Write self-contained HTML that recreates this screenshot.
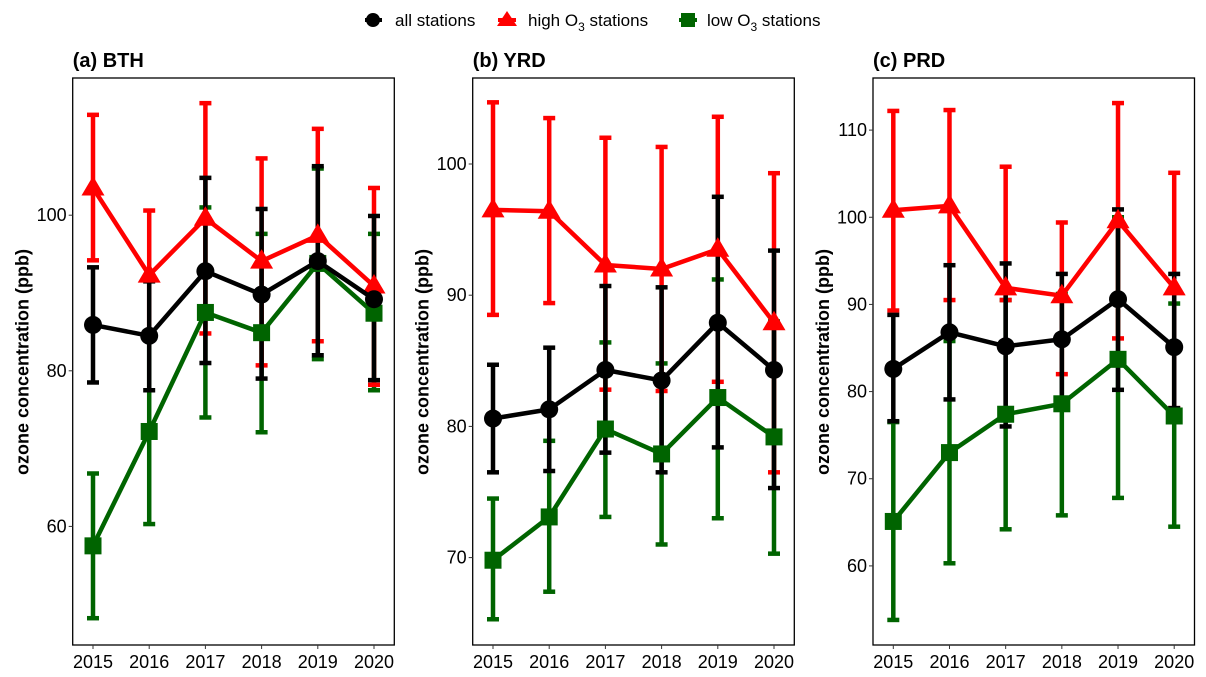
<!DOCTYPE html>
<html><head><meta charset="utf-8"><style>
body{margin:0;background:#fff;}
svg{display:block;font-family:"Liberation Sans",Arial,sans-serif;}
</style></head><body>
<svg id="chart" width="1206" height="677" viewBox="0 0 1206 677">
<g id="legend">
  <g>
    <line x1="365" y1="20" x2="382" y2="20" stroke="#000" stroke-width="4"/>
    <circle cx="373" cy="20" r="7" fill="#000"/>
    <text x="395" y="26" font-size="17">all stations</text>
  </g>
  <g>
    <line x1="498" y1="20" x2="516" y2="20" stroke="#f00" stroke-width="4"/>
    <polygon points="507,11 517,26 497,26" fill="#f00"/>
    <text x="528" y="26" font-size="17">high O<tspan font-size="12" dy="5">3</tspan><tspan dy="-5"> stations</tspan></text>
  </g>
  <g>
    <line x1="679" y1="20" x2="697" y2="20" stroke="#006400" stroke-width="4"/>
    <rect x="681" y="13" width="14" height="14" fill="#006400"/>
    <text x="707" y="26" font-size="17">low O<tspan font-size="12" dy="5">3</tspan><tspan dy="-5"> stations</tspan></text>
  </g>
</g>
</svg>
<script>
const years = [2015, 2016, 2017, 2018, 2019, 2020];
const bthAll = [85.9, 84.5, 92.8, 89.8, 94.1, 89.2];
const bthAllLo = [78.5, 77.5, 81.0, 79.0, 82.0, 78.8];
const bthAllHi = [93.3, 91.5, 104.8, 100.8, 106.3, 99.9];
const bthHigh = [103.5, 92.3, 99.6, 94.1, 97.4, 90.9];
const bthHighLo = [94.2, 84.0, 84.8, 80.7, 83.8, 78.2];
const bthHighHi = [112.9, 100.6, 114.4, 107.3, 111.1, 103.5];
const bthLow = [57.5, 72.2, 87.5, 84.9, 93.8, 87.4];
const bthLowLo = [48.2, 60.3, 74.0, 72.1, 81.5, 77.5];
const bthLowHi = [66.8, 84.0, 101.0, 97.6, 106.0, 97.6];
const yrdAll = [80.6, 81.3, 84.3, 83.5, 87.9, 84.3];
const yrdAllLo = [76.5, 76.6, 78.0, 76.5, 78.4, 75.3];
const yrdAllHi = [84.7, 86.0, 90.7, 90.6, 97.5, 93.4];
const yrdHigh = [96.5, 96.4, 92.3, 92.0, 93.5, 87.9];
const yrdHighLo = [88.5, 89.4, 82.8, 82.7, 83.4, 76.5];
const yrdHighHi = [104.7, 103.5, 102.0, 101.3, 103.6, 99.3];
const yrdLow = [69.8, 73.1, 79.8, 77.9, 82.2, 79.2];
const yrdLowLo = [65.3, 67.4, 73.1, 71.0, 73.0, 70.3];
const yrdLowHi = [74.5, 78.9, 86.4, 84.8, 91.2, 88.0];
const prdAll = [82.6, 86.8, 85.2, 86.0, 90.6, 85.1];
const prdAllLo = [76.6, 79.1, 76.0, 78.5, 80.2, 78.1];
const prdAllHi = [88.8, 94.5, 94.7, 93.5, 100.9, 93.5];
const prdHigh = [100.8, 101.3, 91.9, 91.0, 99.6, 91.9];
const prdHighLo = [89.3, 90.5, 90.5, 82.0, 86.1, 78.1];
const prdHighHi = [112.2, 112.3, 105.8, 99.4, 113.1, 105.1];
const prdLow = [65.1, 73.0, 77.4, 78.6, 83.7, 77.2];
const prdLowLo = [53.8, 60.3, 64.2, 65.8, 67.8, 64.5];
const prdLowHi = [76.5, 85.8, 90.5, 91.2, 100.0, 90.1];
const bthTicks = [60, 80, 100];
const yrdTicks = [70, 80, 90, 100];
const prdTicks = [60, 70, 80, 90, 100, 110];

const NS = "http://www.w3.org/2000/svg";
const svg = document.getElementById('chart');
function mk(tag, attrs, parent){const e=document.createElementNS(NS,tag);for(const k in attrs)e.setAttribute(k,attrs[k]);(parent||svg).appendChild(e);return e;}

const panels = [
 {id:'bth', title:'(a) BTH', left:72.7, right:394.3, refV:100, refY:215.2, ppv:7.78, ticks:bthTicks,
  series:[[bthLow,bthLowLo,bthLowHi],[bthHigh,bthHighLo,bthHighHi],[bthAll,bthAllLo,bthAllHi]]},
 {id:'yrd', title:'(b) YRD', left:472.7, right:794.3, refV:100, refY:164.0, ppv:13.12, ticks:yrdTicks,
  series:[[yrdLow,yrdLowLo,yrdLowHi],[yrdHigh,yrdHighLo,yrdHighHi],[yrdAll,yrdAllLo,yrdAllHi]]},
 {id:'prd', title:'(c) PRD', left:873, right:1194.5, refV:110, refY:130.1, ppv:8.716, ticks:prdTicks,
  series:[[prdLow,prdLowLo,prdLowHi],[prdHigh,prdHighLo,prdHighHi],[prdAll,prdAllLo,prdAllHi]]}
];
const colors = ['#006400','#f00','#000'];
const names = ['low-o3','high-o3','all-stations'];
const TOP=78, BOT=645;

panels.forEach(p=>{
  const g = mk('g',{});
  
  
  const y = v => p.refY - (v - p.refV)*p.ppv;
  const x0 = p.left + 20.3, dx = (p.right - p.left - 40.6)/5;
  const x = i => x0 + i*dx;
  const t = mk('text',{x:p.left, y:67, 'font-size':20, 'font-weight':'bold'}, g);
  t.textContent = p.title;
  
  
  const box = mk('rect',{x:p.left, y:TOP, width:p.right-p.left, height:BOT-TOP, fill:'none', stroke:'#000', 'stroke-width':1.3}, g);
  
  
  const yt = mk('text',{transform:`translate(${p.left-44},362) rotate(-90)`, 'text-anchor':'middle', 'font-size':18, 'font-weight':'bold'}, g);
  yt.textContent = 'ozone concentration (ppb)';
  
  
  p.ticks.forEach(v=>{
    mk('line',{x1:p.left-4, x2:p.left, y1:y(v), y2:y(v), stroke:'#333', 'stroke-width':1}, g);
    const tl = mk('text',{x:p.left-6, y:y(v)+6, 'text-anchor':'end', 'font-size':18, fill:'#000'}, g);
    tl.textContent = v;
    
    
  });
  years.forEach((yr,i)=>{
    mk('line',{x1:x(i), x2:x(i), y1:BOT, y2:BOT+4, stroke:'#333', 'stroke-width':1}, g);
    const tl = mk('text',{x:x(i), y:BOT+23, 'text-anchor':'middle', 'font-size':18, fill:'#000'}, g);
    tl.textContent = yr;
    
    
  });
  p.series.forEach((s,si)=>{
    const c = colors[si];
    s[0].forEach((v,i)=>{
      const eb = mk('g',{stroke:c,'stroke-width':4.5,fill:'none'}, g);
      
      
      mk('line',{x1:x(i),x2:x(i),y1:y(s[1][i]),y2:y(s[2][i])}, eb);
      mk('line',{x1:x(i)-6,x2:x(i)+6,y1:y(s[1][i]),y2:y(s[1][i])}, eb);
      mk('line',{x1:x(i)-6,x2:x(i)+6,y1:y(s[2][i]),y2:y(s[2][i])}, eb);
    });
  });
  p.series.forEach((s,si)=>{
    const c = colors[si];
    const pl = mk('polyline',{points:s[0].map((v,i)=>x(i)+','+y(v)).join(' '), fill:'none', stroke:c, 'stroke-width':4.5, 'stroke-linejoin':'round'}, g);
    
    
    s[0].forEach((v,i)=>{
      let m;
      const cx=x(i), cy=y(v);
      if(si===2) m = mk('circle',{cx:cx, cy:cy, r:9, fill:c}, g);
      else if(si===1) m = mk('polygon',{points:`${cx},${cy-12} ${cx+11.5},${cy+7.5} ${cx-11.5},${cy+7.5}`, fill:c}, g);
      else m = mk('rect',{x:cx-8.5, y:cy-8.5, width:17, height:17, fill:c}, g);
      
      
    });
  });
});
</script>
</body></html>
